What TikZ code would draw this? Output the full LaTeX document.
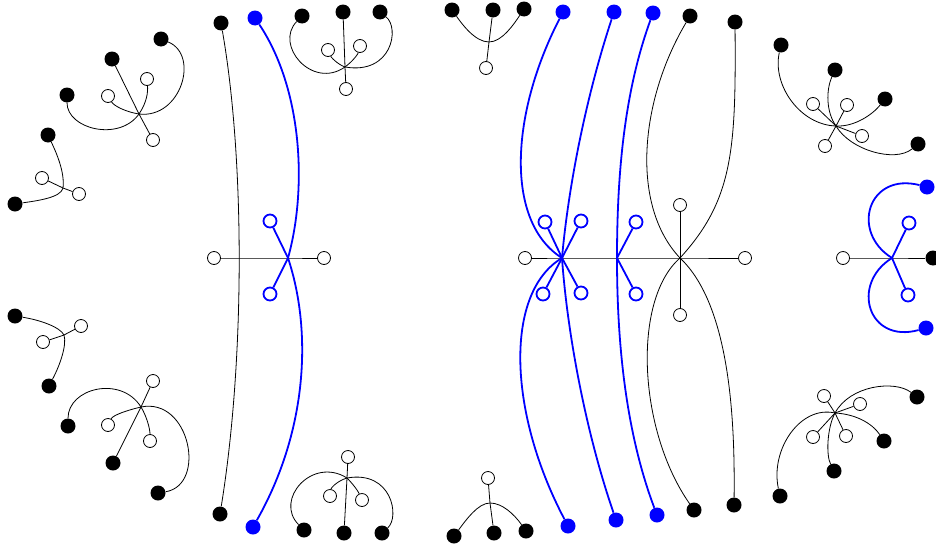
\documentclass[tikz,border=0pt]{standalone}
\usepackage{tikz}
\begin{document}
\begin{tikzpicture}[x=1pt, y=-1pt,
    blk/.style={circle, fill=black, inner sep=0pt, minimum size=15pt},
    bdot/.style={circle, fill=blue, inner sep=0pt, minimum size=15pt},
    wht/.style={circle, draw=black, fill=white, line width=0.8pt, inner sep=0pt, minimum size=13pt},
    bwht/.style={circle, draw=blue, fill=white, line width=1.8pt, inner sep=0pt, minimum size=13pt},
    wire/.style={line width=0.8pt},
    bwire/.style={draw=blue, line width=1.8pt}]
  \useasboundingbox (0,0) rectangle (936,546);

  % Vertices (pixel grid, y pointing down)
  \foreach \v/\x/\y in {vA/139/114, vB/63/188, vC/64/335, vD/141/407,
                        vE/345/67, vF/347/478, vG/489/42, vH/490/503,
                        vP/288/258, vQ/562/258, vR/617/258, vS/680/258,
                        vI/836/126, vJ/892/258, vK/835/413} {
    \coordinate (\v) at (\x,\y);
  }

  % External legs: black dots
  \foreach \n/\x/\y in {A1/161/39, A2/112/59, A3/67/95, B1/48/135, B4/15/204,
                        C1/15/316, C4/49/386, D2/68/426, D5/113/463, D6/158/493,
                        E1/302/16, E2/343/12, E3/380/12, F3/304/530, F5/344/533, F6/382/533,
                        G1/452/10, G2/493/10, G3/524/9, H2/454/536, H3/494/533, H4/526/531,
                        L1/221/23, L2/220/514, S1/690/16, S2/735/22, S3/694/510, S4/734/505,
                        I5/781/45, I6/835/70, I7/885/99, I8/918/144, J2/933/258,
                        K5/917/397, K6/884/441, K7/834/471, K8/780/496} {
    \node[blk] (\n) at (\x,\y) {};
  }

  % External legs: blue dots
  \foreach \n/\x/\y in {P1/255/18, P2/253/527, Q1/563/12, Q2/568/526, Q3/614/12, Q4/616/520,
                        R1/653/13, R2/657/515, J5/927/187, J6/926/328} {
    \node[bdot] (\n) at (\x,\y) {};
  }

  % Open circles
  \foreach \n/\x/\y in {A4/147/79, A5/108/96, A6/153/140, B2/42/178, B3/79/194,
                        C2/81/326, C3/43/342, D1/153/381, D3/108/425, D4/150/441,
                        E4/328/50, E5/360/46, E6/346/89, F1/348/457, F2/330/496, F4/362/500,
                        G4/486/68, H1/488/478, P3/214/258, P4/324/258,
                        Q0/525/258, S5/745/258, S6/680/205, S7/680/315,
                        I1/813/104, I2/847/105, I3/862/136, I4/825/146, J1/843/258,
                        K1/824/396, K2/860/404, K3/813/437, K4/846/436} {
    \node[wht] (\n) at (\x,\y) {};
  }
  \foreach \n/\x/\y in {P5/270/221, P6/270/294, Q5/545/222, Q6/581/221, Q7/543/294, Q8/581/293,
                        R3/636/222, R4/636/294, J3/909/223, J4/908/295} {
    \node[bwht] (\n) at (\x,\y) {};
  }

  % Left clusters
  \draw[wire] (A2) -- (vA) -- (A6);
  \draw[wire] (A1) .. controls (200,55) and (181,119) .. (vA) .. controls (126,112) and (114,106) .. (A5);
  \draw[wire] (A3) .. controls (67,129) and (119,142) .. (vA) .. controls (147,102) and (148,92) .. (A4);

  \draw[wire] (B2) -- (vB) -- (B3);
  \draw[wire] (B1) .. controls (56,152) and (65,172) .. (vB) .. controls (61,198) and (35,201) .. (B4);

  \draw[wire] (C2) -- (vC) -- (C3);
  \draw[wire] (C1) .. controls (40,320) and (60,327) .. (vC) .. controls (67,345) and (60,365) .. (C4);

  \draw[wire] (D1) -- (vD) -- (D5);
  \draw[wire] (D2) .. controls (68,388) and (121,375) .. (vD) .. controls (146,415) and (150,428) .. (D4);
  \draw[wire] (D3) .. controls (113,415) and (128,410) .. (vD) .. controls (190,397) and (207,485) .. (D6);

  % Middle clusters
  \draw[wire] (E2) -- (vE) -- (E6);
  \draw[wire] (E1) .. controls (274,45) and (312,90) .. (vE) .. controls (353,61) and (358,54) .. (E5);
  \draw[wire] (E3) .. controls (400,28) and (392,75) .. (vE) .. controls (337,64) and (331,57) .. (E4);

  \draw[wire] (F1) -- (vF) -- (F5);
  \draw[wire] (F3) .. controls (274,500) and (312,456) .. (vF) .. controls (353,484) and (358,491) .. (F4);
  \draw[wire] (F6) .. controls (400,517) and (392,470) .. (vF) .. controls (337,481) and (331,488) .. (F2);

  \draw[wire] (G2) -- (vG) -- (G4);
  \draw[wire] (G1) .. controls (462,24) and (475,42) .. (vG) .. controls (502,42) and (514,24) .. (G3);

  \draw[wire] (H1) -- (vH) -- (H3);
  \draw[wire] (H2) .. controls (466,520) and (478,503) .. (vH) .. controls (502,503) and (514,514) .. (H4);

  % Left cross with long lines
  \draw[wire] (L1) .. controls (245,160) and (245,360) .. (L2);
  \draw[wire] (P3) -- (vP) -- (P4);
  \draw[bwire] (P5) -- (vP) -- (P6);
  \draw[bwire] (P1) .. controls (303,90) and (307,190) .. (vP) .. controls (312,330) and (308,430) .. (P2);

  % Right cross with long lines
  \draw[wire] (Q0) -- (vQ) -- (vR) -- (vS) -- (S5);
  \draw[wire] (S6) -- (vS) -- (S7);
  \draw[wire] (S1) .. controls (640,100) and (630,205) .. (vS) .. controls (730,305) and (735,420) .. (S4);
  \draw[wire] (S2) .. controls (736,150) and (733,200) .. (vS) .. controls (632,300) and (638,430) .. (S3);
  \draw[bwire] (Q5) -- (vQ) -- (Q8);
  \draw[bwire] (Q6) -- (vQ) -- (Q7);
  \draw[bwire] (R3) -- (vR) -- (R4);
  \draw[bwire] (Q1) .. controls (510,115) and (505,222) .. (vQ) .. controls (505,292) and (507,410) .. (Q2);
  \draw[bwire] (Q3) .. controls (585,100) and (568,190) .. (vQ) .. controls (567,330) and (585,430) .. (Q4);
  \draw[bwire] (R1) .. controls (625,90) and (617,170) .. (vR) .. controls (617,340) and (625,430) .. (R2);

  % Right clusters
  \foreach \n in {I1,I2,I3,I4} \draw[wire] (vI) -- (\n);
  \draw[wire] (I5) .. controls (772,85) and (800,125) .. (vI) .. controls (855,127) and (873,114) .. (I7);
  \draw[wire] (I6) .. controls (826,90) and (826,112) .. (vI) .. controls (850,150) and (895,163) .. (I8);

  \draw[wire] (J1) -- (vJ) -- (J2);
  \draw[bwire] (J3) -- (vJ) -- (J4);
  \draw[bwire] (vJ) .. controls (850,232) and (868,172) .. (J5);
  \draw[bwire] (vJ) .. controls (850,284) and (868,344) .. (J6);

  \foreach \n in {K1,K2,K3,K4} \draw[wire] (vK) -- (\n);
  \draw[wire] (K5) .. controls (895,380) and (850,385) .. (vK) .. controls (827,428) and (826,455) .. (K7);
  \draw[wire] (K8) .. controls (770,450) and (800,405) .. (vK) .. controls (855,414) and (872,423) .. (K6);
\end{tikzpicture}
\end{document}
